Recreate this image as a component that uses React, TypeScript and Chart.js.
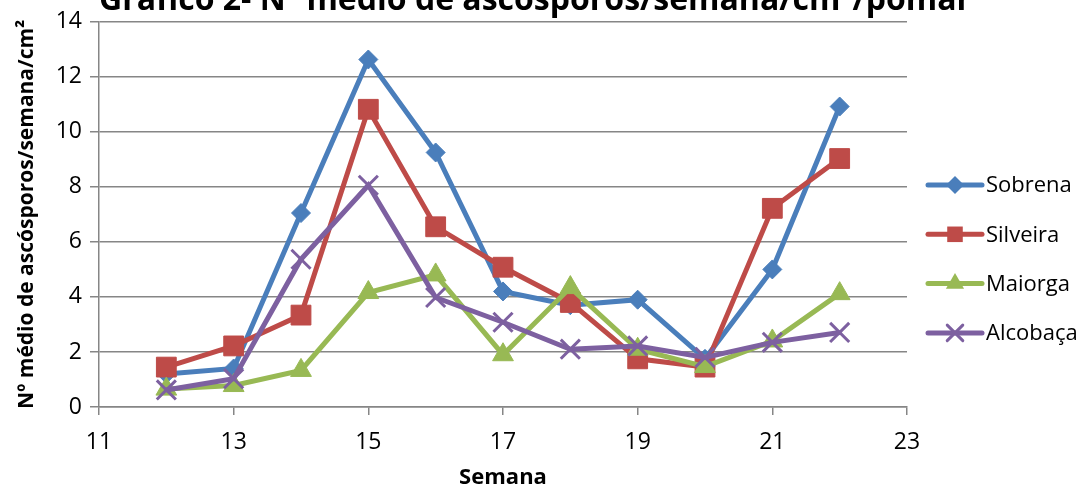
import React, { useEffect, useRef } from 'react';
import { Chart, registerables } from 'chart.js';

Chart.register(...registerables);

const chartTitle = 'Gráfico 2- Nº médio de ascósporos/semana/cm²/pomar';
const yTitle = 'Nº médio de ascósporos/semana/cm²';
const xTitle = 'Semana';

const weeks = [12, 13, 14, 15, 16, 17, 18, 19, 20, 21, 22];
const seriesNames = ['Sobrena', 'Silveira', 'Maiorga', 'Alcobaça'];
const sobrena = [1.2, 1.4, 7.05, 12.63, 9.25, 4.2, 3.7, 3.9, 1.75, 5.0, 10.92];
const silveira = [1.45, 2.22, 3.34, 10.82, 6.55, 5.08, 3.8, 1.75, 1.45, 7.22, 9.03];
const maiorga = [0.65, 0.78, 1.33, 4.16, 4.8, 1.9, 4.34, 2.1, 1.47, 2.4, 4.12];
const alcobaca = [0.62, 1.03, 5.37, 8.06, 3.98, 3.08, 2.1, 2.22, 1.8, 2.35, 2.71];
const xTicks = [11, 13, 15, 17, 19, 21, 23];
const yTicks = [0, 2, 4, 6, 8, 10, 12, 14];

const colors = ['#4A7EBB', '#BE4B48', '#98B954', '#7D60A0'];
const styles = ['rectRot', 'rect', 'triangle', 'crossRot'];
const radii = [9.5, 14, 12, 13.5];

const FONT = "'Open Sans', sans-serif";

function drawMarker(ctx: CanvasRenderingContext2D, style: string, x: number, y: number, r: number, color: string) {
  ctx.save();
  ctx.fillStyle = color;
  ctx.strokeStyle = color;
  ctx.beginPath();
  if (style === 'rectRot') {
    ctx.moveTo(x - r, y);
    ctx.lineTo(x, y - r);
    ctx.lineTo(x + r, y);
    ctx.lineTo(x, y + r);
    ctx.closePath();
    ctx.fill();
  } else if (style === 'rect') {
    const s = r * Math.SQRT1_2;
    ctx.rect(x - s, y - s, 2 * s, 2 * s);
    ctx.fill();
  } else if (style === 'triangle') {
    ctx.moveTo(x, y - r);
    ctx.lineTo(x + r * 0.866, y + r * 0.5);
    ctx.lineTo(x - r * 0.866, y + r * 0.5);
    ctx.closePath();
    ctx.fill();
  } else {
    const o = r * Math.SQRT1_2;
    ctx.lineWidth = 3;
    ctx.moveTo(x - o, y - o);
    ctx.lineTo(x + o, y + o);
    ctx.moveTo(x + o, y - o);
    ctx.lineTo(x - o, y + o);
    ctx.stroke();
  }
  ctx.restore();
}

const titlePlugin = {
  id: 'cutTitle',
  afterDraw(chart: any) {
    const ctx = chart.ctx as CanvasRenderingContext2D;
    ctx.save();
    ctx.font = `bold 32px ${FONT}`;
    ctx.fillStyle = '#000';
    ctx.textAlign = 'center';
    ctx.textBaseline = 'alphabetic';
    ctx.fillText(chartTitle, 535, 10);
    ctx.restore();
  },
};

const legendPlugin = {
  id: 'lineLegend',
  afterDraw(chart: any) {
    const ctx = chart.ctx as CanvasRenderingContext2D;
    const right = chart.chartArea.right;
    const legendRadii = [9, 11, 10.5, 11];
    chart.data.datasets.forEach((ds: any, i: number) => {
      const y = 185 + i * 49.3;
      const x0 = right + 21;
      const x1 = right + 75;
      ctx.save();
      ctx.strokeStyle = ds.borderColor;
      ctx.lineWidth = 5;
      ctx.lineCap = 'round';
      ctx.beginPath();
      ctx.moveTo(x0, y);
      ctx.lineTo(x1, y);
      ctx.stroke();
      drawMarker(ctx, ds.pointStyle, (x0 + x1) / 2, y, legendRadii[i], ds.borderColor);
      ctx.font = `22px ${FONT}`;
      ctx.fillStyle = '#000';
      ctx.textAlign = 'left';
      ctx.textBaseline = 'middle';
      ctx.fillText(ds.label, x1 + 4, y + 1);
      ctx.restore();
    });
  },
};

export default function App() {
  const ref = useRef<HTMLCanvasElement>(null);
  useEffect(() => {
    const all = [sobrena, silveira, maiorga, alcobaca];
    const datasets = all.map((vals, i) => ({
      label: seriesNames[i],
      data: weeks.map((w, j) => ({ x: w, y: vals[j] })),
      borderColor: colors[i],
      backgroundColor: colors[i],
      borderWidth: 5,
      pointStyle: styles[i],
      pointRadius: radii[i],
      pointHoverRadius: radii[i],
      pointBorderWidth: i === 3 ? 3 : 1,
      pointBorderColor: colors[i],
      pointBackgroundColor: colors[i],
      tension: 0,
      fill: false,
      order: 3 - i,
      clip: false as any,
    }));
    const chart = new Chart(ref.current!, {
      type: 'line',
      data: { datasets },
      plugins: [titlePlugin, legendPlugin],
      options: {
        responsive: false,
        animation: false,
        events: [],
        layout: { padding: { left: 0, right: 178, top: 20, bottom: 0 } },
        plugins: { legend: { display: false }, title: { display: false }, tooltip: { enabled: false } },
        scales: {
          x: {
            type: 'linear',
            min: 11,
            max: 23,
            afterFit: (s: any) => { s.height = 84; },
            afterBuildTicks: (s: any) => { s.ticks = xTicks.map((v) => ({ value: v })); },
            grid: { drawOnChartArea: false, drawTicks: true, tickLength: 8, color: '#868686', lineWidth: 1.5 },
            border: { color: '#868686', width: 1.5 },
            ticks: { font: { family: FONT, size: 23 }, color: '#000', padding: 14, maxRotation: 0, autoSkip: false },
            title: { display: true, text: xTitle, font: { family: FONT, size: 22, weight: 'bold' }, color: '#000', padding: { top: 0, bottom: 0 } },
          },
          y: {
            min: 0,
            max: 14,
            afterFit: (s: any) => { s.width = 99; },
            afterBuildTicks: (s: any) => { s.ticks = yTicks.map((v) => ({ value: v })); },
            grid: { drawTicks: true, tickLength: 9, color: '#868686', lineWidth: 1.5 },
            border: { color: '#868686', width: 1.5 },
            ticks: { font: { family: FONT, size: 23 }, color: '#000', padding: 8 },
            title: { display: true, text: yTitle, font: { family: FONT, size: 21, weight: 'bold' }, color: '#000', padding: { top: 14, bottom: 0 } },
          },
        },
      },
    });
    return () => chart.destroy();
  }, []);
  return (
    <div style={{ position: 'fixed', left: 0, top: 0, width: 1085, height: 491, background: '#fff' }}>
      <canvas ref={ref} width={1085} height={491} style={{ display: 'block' }} />
    </div>
  );
}
